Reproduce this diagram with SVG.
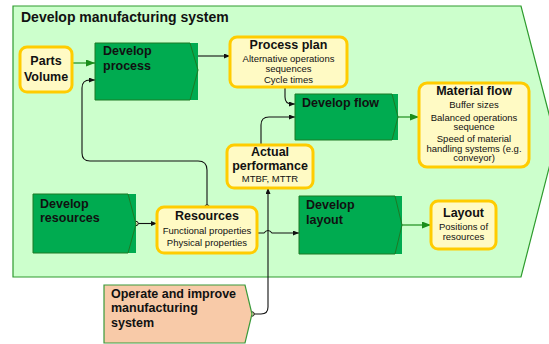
<svg xmlns="http://www.w3.org/2000/svg" width="549" height="344" viewBox="0 0 549 344">
  <style>
    text { font-family: "Liberation Sans", Arial, sans-serif; fill: #111; }
    .title { font-size: 14px; font-weight: bold; }
    .h { font-size: 12.5px; font-weight: bold; }
    .s { font-size: 9.5px; }
    .mid { text-anchor: middle; }
    .info { fill: #FFFAC4; stroke: #FFCC00; stroke-width: 3; }
    .fn-fill { fill: #00AB50; }
    .fn-edge { fill: none; stroke: #1D7A24; stroke-width: 1; }
    .link { fill: none; stroke: #111; stroke-width: 1.1; }
    .glink { fill: none; stroke: #1B8E1B; stroke-width: 1.2; }
    .dot { fill: #FFFAC4; stroke: #111; stroke-width: 1; }
  </style>
  <defs>
    <marker id="arrow" markerUnits="userSpaceOnUse" markerWidth="7" markerHeight="6" refX="6" refY="2.5" orient="auto">
      <path d="M0,0 L6,2.5 L0,5 z" fill="#111"/>
    </marker>
    <marker id="garrow" markerUnits="userSpaceOnUse" markerWidth="10" markerHeight="8" refX="9" refY="3.5" orient="auto">
      <path d="M0,0 L9,3.5 L0,7 z" fill="#1B8E1B"/>
    </marker>
  </defs>

  <!-- enclosing process -->
  <g id="develop-manufacturing-system">
    <polygon points="13,6 521,6 556,141 521,277 13,277" fill="#CCFFCC" stroke="#2E9B2E" stroke-width="1.2"/>
    <text class="title" x="21" y="22">Develop manufacturing system</text>
  </g>

  <!-- connectors -->
  <g id="connectors">
    <path class="glink" d="M72,63 H95" marker-end="url(#garrow)"/>
    <path class="link" d="M198,56 H230" marker-end="url(#arrow)"/>
    <path class="link" d="M285,87 V97 Q285,104 292,104 H295" marker-end="url(#arrow)"/>
    <path class="link" d="M261,145 V125 Q261,117 269,117 H295" marker-end="url(#arrow)"/>
    <path class="glink" d="M398,117 H419" marker-end="url(#garrow)"/>
    <path class="link" d="M136,223.5 H157" marker-end="url(#arrow)"/>
    <path class="link" d="M207,207 V170 Q207,161 198,161 H90 Q82,161 82,153 V88 Q82,80 90,80 H95" marker-end="url(#arrow)"/>
    <path class="link" d="M257,233 H264 Q268,228 272,233 H299" marker-end="url(#arrow)"/>
    <path class="glink" d="M402,225 H431" marker-end="url(#garrow)"/>
    <path class="link" d="M252,314 H261 Q268,314 268,307 V188" marker-end="url(#arrow)"/>
    <circle class="dot" cx="136" cy="223.5" r="2.2"/>
    <circle class="dot" cx="207" cy="207" r="2.2"/>
    <circle class="dot" cx="252" cy="314" r="2.2"/>
  </g>

  <g id="parts-volume">
    <rect class="info" x="20" y="47" width="52" height="45" rx="7"/>
    <text class="h mid" x="46" y="65">Parts</text>
    <text class="h mid" x="46" y="81">Volume</text>
  </g>

  <g id="develop-process">
    <rect class="fn-fill" x="95" y="43" width="103" height="57"/>
    <polygon class="fn-edge" points="95,43 190,43 198,70 190,100 95,100"/>
    <text class="h" x="103" y="55">Develop</text>
    <text class="h" x="103" y="70">process</text>
  </g>

  <g id="process-plan">
    <rect class="info" x="230" y="37" width="117" height="50" rx="7"/>
    <text class="h mid" x="288.5" y="49">Process plan</text>
    <text class="s mid" x="288.5" y="62">Alternative operations</text>
    <text class="s mid" x="288.5" y="72">sequences</text>
    <text class="s mid" x="288.5" y="83">Cycle times</text>
  </g>

  <g id="develop-flow">
    <rect class="fn-fill" x="295" y="94" width="103" height="46"/>
    <polygon class="fn-edge" points="295,94 392,94 398,117 392,140 295,140"/>
    <text class="h" x="302" y="107">Develop flow</text>
  </g>

  <g id="material-flow">
    <rect class="info" x="419" y="83" width="110" height="84" rx="8"/>
    <text class="h mid" x="474" y="95">Material flow</text>
    <text class="s mid" x="474" y="108">Buffer sizes</text>
    <text class="s mid" x="474" y="121">Balanced operations</text>
    <text class="s mid" x="474" y="130">sequence</text>
    <text class="s mid" x="474" y="142">Speed of material</text>
    <text class="s mid" x="474" y="152">handling systems (e.g.</text>
    <text class="s mid" x="474" y="161">conveyor)</text>
  </g>

  <g id="actual-performance">
    <rect class="info" x="227" y="145" width="86" height="43" rx="7"/>
    <text class="h mid" x="270" y="156">Actual</text>
    <text class="h mid" x="270" y="170">performance</text>
    <text class="s mid" x="270" y="182">MTBF, MTTR</text>
  </g>

  <g id="develop-resources">
    <rect class="fn-fill" x="33" y="194" width="103" height="59"/>
    <polygon class="fn-edge" points="33,194 128,194 136,224 128,253 33,253"/>
    <text class="h" x="40" y="208">Develop</text>
    <text class="h" x="40" y="222">resources</text>
  </g>

  <g id="resources">
    <rect class="info" x="157" y="207" width="100" height="46" rx="7"/>
    <text class="h mid" x="207" y="220">Resources</text>
    <text class="s mid" x="207" y="234">Functional properties</text>
    <text class="s mid" x="207" y="246">Physical properties</text>
  </g>

  <g id="develop-layout">
    <rect class="fn-fill" x="299" y="196" width="103" height="58"/>
    <polygon class="fn-edge" points="299,196 395,196 402,225 395,254 299,254"/>
    <text class="h" x="306" y="209">Develop</text>
    <text class="h" x="306" y="224">layout</text>
  </g>

  <g id="layout">
    <rect class="info" x="431" y="201" width="65" height="48" rx="7"/>
    <text class="h mid" x="463.5" y="217">Layout</text>
    <text class="s mid" x="463.5" y="230">Positions of</text>
    <text class="s mid" x="463.5" y="240">resources</text>
  </g>

  <g id="operate-and-improve">
    <polygon points="104,285 245,285 252,314 245,343 104,343" fill="#F8CAA8" stroke="#3A9A3A" stroke-width="1.2"/>
    <text class="h" x="111" y="298">Operate and improve</text>
    <text class="h" x="111" y="312">manufacturing</text>
    <text class="h" x="111" y="327">system</text>
  </g>
</svg>
